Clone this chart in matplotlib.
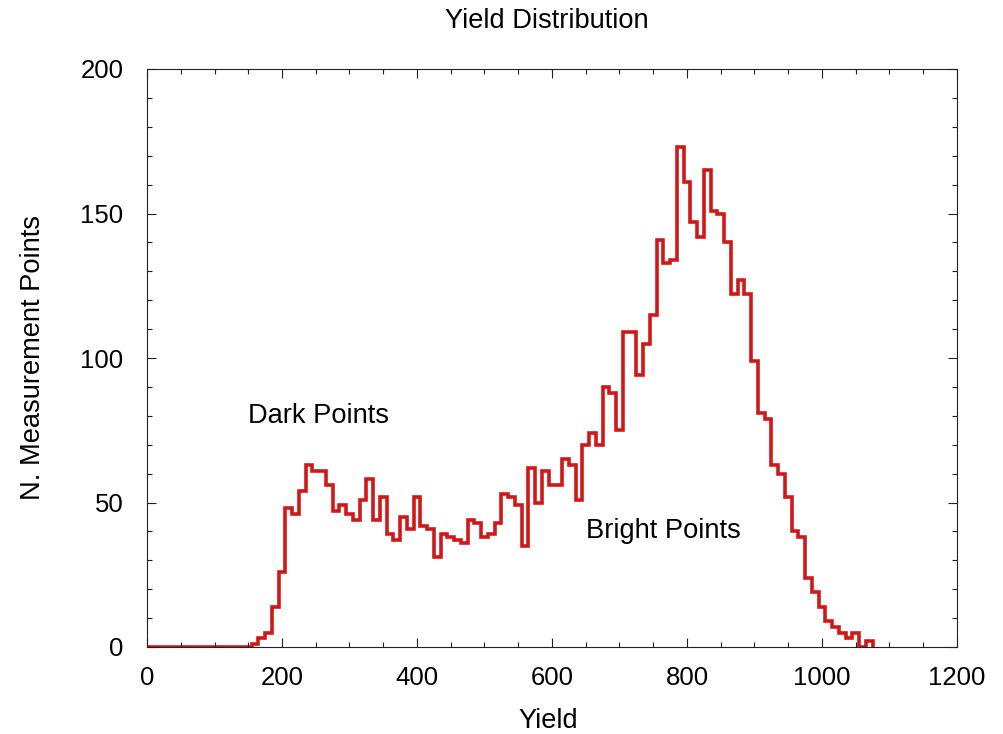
import numpy as np
import matplotlib
matplotlib.use("Agg")
import matplotlib.pyplot as plt
from matplotlib.ticker import MultipleLocator

plt.rcParams['font.family'] = ['Liberation Sans', 'DejaVu Sans']

# histogram bin centres (step 10) and counts
yield_centers = np.arange(0, 1080, 10)
counts = [
    0, 0, 0, 0, 0, 0, 0, 0, 0, 0, 0, 0, 0, 0, 0, 0,    # 0 - 150
    1, 3, 5, 14, 26, 48, 46, 54, 63, 61,               # 160 - 250
    61, 56, 47, 49, 46, 44, 51, 58, 44, 52,            # 260 - 350
    39, 37, 45, 41, 52, 42, 41, 31, 39, 38,            # 360 - 450
    37, 36, 44, 43, 38, 39, 43, 53, 52, 49,            # 460 - 550
    35, 62, 50, 61, 56, 56, 65, 63, 51, 70,            # 560 - 650
    74, 70, 90, 88, 75, 109, 109, 94, 105, 115,        # 660 - 750
    141, 133, 134, 173, 161, 147, 142, 165, 151, 150,  # 760 - 850
    140, 122, 127, 122, 99, 81, 79, 63, 60, 52,        # 860 - 950
    40, 38, 24, 19, 14, 9, 7, 5, 3, 5,                 # 960 - 1050
    0, 2,                                              # 1060 - 1070
]
bin_width = 10
edges = np.append(yield_centers - bin_width / 2, yield_centers[-1] + bin_width / 2)

x_ticks = [0, 200, 400, 600, 800, 1000, 1200]
y_ticks = [0, 50, 100, 150, 200]

fig = plt.figure(figsize=(10.04, 7.34), dpi=100)
ax = fig.add_axes([147 / 1004, 1 - 647 / 734, 810 / 1004, 578 / 734])

ax.stairs(counts, edges, baseline=0, color="#d01818", linewidth=2.6)

ax.set_xlim(0, 1200)
ax.set_ylim(0, 200)
ax.set_xticks(x_ticks)
ax.set_yticks(y_ticks)
ax.xaxis.set_minor_locator(MultipleLocator(50))
ax.yaxis.set_minor_locator(MultipleLocator(10))
ax.tick_params(which="both", direction="in", top=True, right=True,
               width=0.8, colors="#222222", labelcolor="black", labelsize=18.5)
ax.tick_params(which="major", length=6.5)
ax.tick_params(which="minor", length=3.6)
ax.tick_params(axis="x", pad=14)
ax.tick_params(axis="y", pad=17)
for s in ax.spines.values():
    s.set_linewidth(0.8)
    s.set_color("#222222")

lbl = 19.6
ax.text(150, 80, "Dark Points", fontsize=lbl, ha="left", va="center")
ax.text(650, 40, "Bright Points", fontsize=lbl, ha="left", va="center")

fig.text(547 / 1004, 1 - 21 / 734, "Yield Distribution", fontsize=lbl,
         ha="center", va="center")
fig.text(548 / 1004, 1 - 721 / 734, "Yield", fontsize=lbl,
         ha="center", va="center")
fig.text(33 / 1004, 1 - 358 / 734, "N. Measurement Points", fontsize=lbl,
         ha="center", va="center", rotation=90)

fig.savefig("out.png", dpi=100)
